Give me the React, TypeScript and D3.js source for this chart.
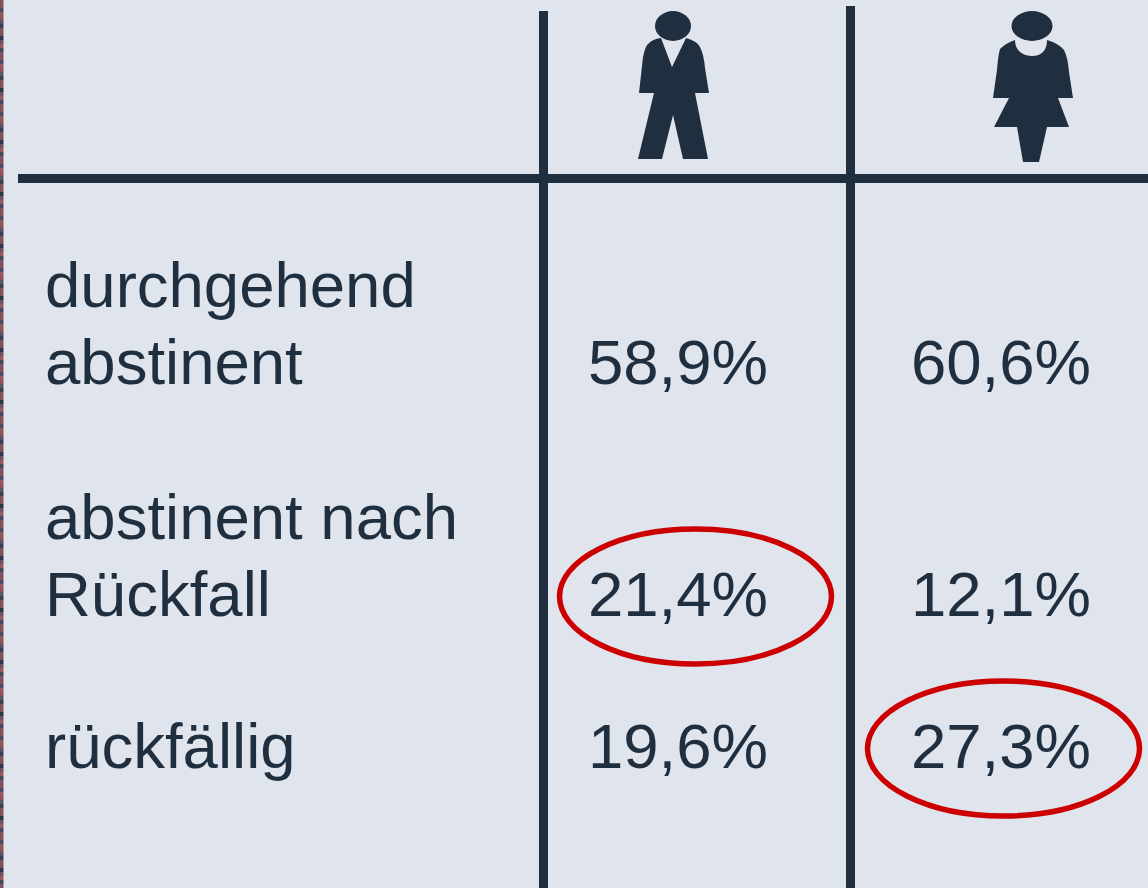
import React from "react";
import * as d3 from "d3";

const categories = ["durchgehend abstinent", "abstinent nach Rückfall", "rückfällig"];
const categoryLines = [["durchgehend", "abstinent"], ["abstinent nach", "Rückfall"], ["rückfällig"]];
const groups = ["männlich", "weiblich"];
const maleValues = ["58,9%", "21,4%", "19,6%"];
const femaleValues = ["60,6%", "12,1%", "27,3%"];
const highlighted = [
  { group: "männlich", category: "abstinent nach Rückfall" },
  { group: "weiblich", category: "rückfällig" },
];
const stripColors = ["#7a5560", "#8a4f55", "#4a4c5e", "#93565a", "#8c5258", "#5c5362", "#3a3f52", "#84535a", "#7d5058", "#2f3648", "#6e5060", "#94595c", "#45485a"];

const W = 1148, H = 888;
const INK = "#1f2f40", BG = "#dfe4ed", RED = "#cc0000";
const FONT = "'Liberation Sans', Arial, sans-serif";
const FS = 63.5;

const x = d3.scaleOrdinal<string, number>().domain(groups).range([678, 1001]);
const y = d3.scaleOrdinal<string, number>().domain(categories).range([384, 616, 768]);
const ringX = d3.scaleOrdinal<string, number>().domain(groups).range([695.5, 1003.5]);

const malePath = "M661 38 L672 67 L686 38 Q697 41 700 47 Q704 55 705 68 L709 93 L695 93 L708 159 L683 159 L673 115 L662 159 L638 159 L654 93 L639 93 L642 66 Q643 52 647 45 Q652 39 661 38 Z";
const femalePath = "M1015 40 C1015 50 1022 56 1032 56 C1042 56 1047 50 1047 40 Q1058 43 1064 50 Q1068 58 1069 72 L1073 98 L1058 98 L1069 127 L1047 127 L1039 162 L1023 162 L1017 127 L994 127 L1009 98 L993 98 L997 70 Q998 56 1000 49 Q1006 43 1015 40 Z";

export default function App() {
  const strip = d3.range(0, H, 4);
  return (
    <svg width={W} height={H} viewBox={`0 0 ${W} ${H}`}
      style={{ position: "fixed", left: 0, top: 0, display: "block" }} fontFamily={FONT}>
      <rect width={W} height={H} fill={BG} />
      {strip.map((sy, i) => (
        <rect key={sy} x={0} y={sy} width={3.5} height={4} fill={stripColors[i % stripColors.length]} />
      ))}
      <rect x={18} y={174} width={W - 18} height={9} fill={INK} />
      <rect x={539} y={11} width={9} height={H - 11} fill={INK} />
      <rect x={846} y={6} width={9} height={H - 6} fill={INK} />

      <ellipse cx={673} cy={26} rx={18} ry={15} fill={INK} />
      <path d={malePath} fill={INK} />
      <ellipse cx={1032} cy={26} rx={20.5} ry={15} fill={INK} />
      <path d={femalePath} fill={INK} />

      {categories.map((c, i) => {
        const lines = categoryLines[i];
        return lines.map((line, j) => (
          <text key={line} x={45} y={y(c) - (lines.length - 1 - j) * 77} fontSize={FS} fill={INK}>{line}</text>
        ));
      })}
      {categories.map((c, i) => (
        <g key={c}>
          <text x={x(groups[0])} y={y(c)} fontSize={FS} fill={INK} textAnchor="middle">{maleValues[i]}</text>
          <text x={x(groups[1])} y={y(c)} fontSize={FS} fill={INK} textAnchor="middle">{femaleValues[i]}</text>
        </g>
      ))}
      {highlighted.map((h) => (
        <ellipse key={h.group} cx={ringX(h.group)} cy={y(h.category) - 19.5} rx={136} ry={67.5}
          fill="none" stroke={RED} strokeWidth={5.5} />
      ))}
    </svg>
  );
}
